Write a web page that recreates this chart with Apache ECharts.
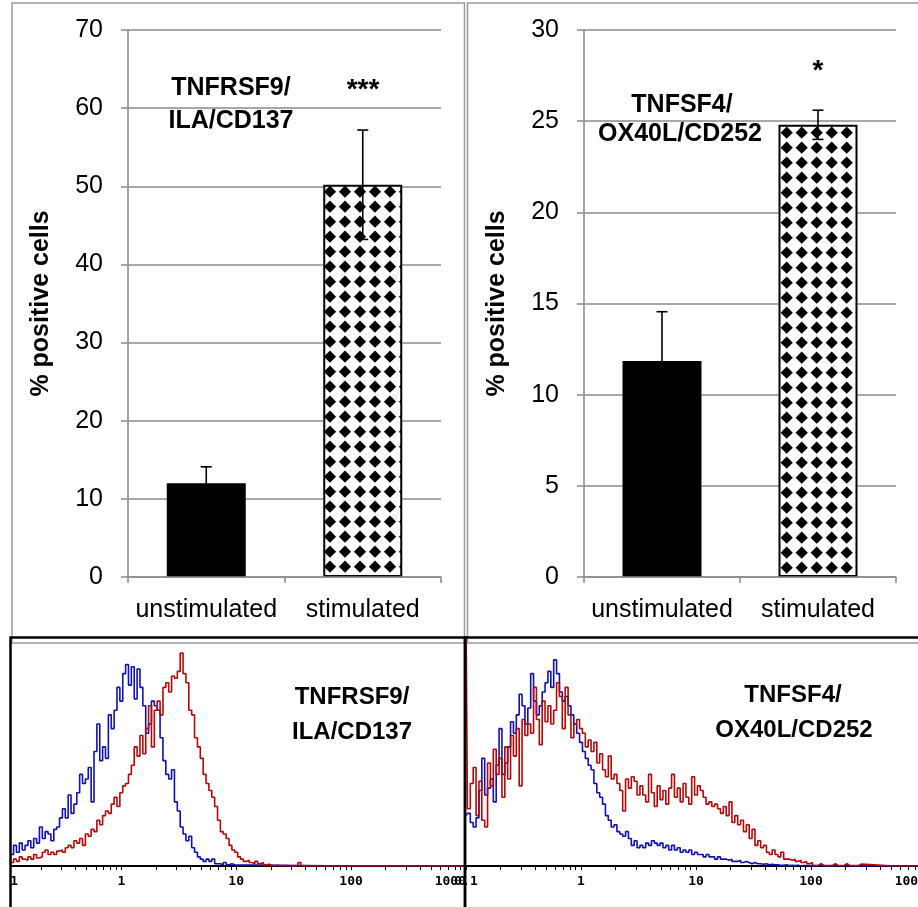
<!DOCTYPE html>
<html>
<head>
<meta charset="utf-8">
<script src="https://cdn.jsdelivr.net/npm/echarts@6/dist/echarts.min.js"></script>
<style>
  html, body { margin: 0; padding: 0; background: #fff; }
  #chart { width: 918px; height: 907px; }
</style>
</head>
<body>
<div id="chart"></div>
<script>
// ---- Bar panels: % positive cells (mean and error) ----
const categories = ['unstimulated', 'stimulated'];
const cd137Mean = [12.0, 50.2];
const cd137Err = [2.1, 7.0];
const ox40lMean = [11.85, 24.8];
const ox40lErr = [2.7, 0.8];
const cd137YTicks = [0, 10, 20, 30, 40, 50, 60, 70];
const ox40lYTicks = [0, 5, 10, 15, 20, 25, 30];
const cd137Signif = '***';
const ox40lSignif = '*';

// ---- Flow cytometry histograms (counts, % of panel height) ----
// bins are 40 per decade, starting at 0.1
const histBinsPerDecade = 40;
const histLabelValues = [0.1, 1, 10, 100, 1000];
const histTickLabels = ['0.1', '1', '10', '100', '1000'];

// CD137 panel, starting at bin 1
const cd137HistUnstim = [7, 5, 9, 6, 10, 7, 9, 11, 8, 12, 10, 17, 12, 15, 14, 11, 16, 17, 21, 25,
  21, 31, 23, 27, 32, 40, 36, 38, 43, 28, 50, 62, 46, 52, 47, 66, 60, 68, 78, 72,
  84, 88, 79, 87, 73, 86, 78, 70, 58, 62, 72, 70, 68, 56, 46, 40, 38, 42, 28, 24,
  17, 14, 11, 13, 8, 6, 4, 3, 2, 3, 2, 3, 1, 1, 0.5, 1.5, 0.5, 1, 0.5, 0];
const cd137HistStim = [3, 1.5, 3, 2, 4, 3, 2.5, 4, 3, 5, 3.5, 4, 6, 7, 5, 6, 5, 6.5, 7, 6,
  8, 9, 8, 11, 10, 12, 9, 14, 13, 16, 15, 20, 18, 22, 24, 23, 27, 30, 26, 32,
  35, 36, 40, 44, 52, 48, 57, 49, 60, 70, 52, 68, 72, 66, 78, 80, 76, 83, 82, 85,
  93, 84, 80, 68, 66, 56, 52, 47, 40, 36, 33, 30, 26, 20, 15, 14, 12, 9, 7, 6,
  4, 3, 2, 2.5, 1.5, 1, 2, 1, 1.5, 0.5, 0.8, 0.3, 0, 0.3, 0, 0, 0.2, 0, 0, 0,
  0, 1.5, 0, 0];

// OX40L panel, starting at bin 0
const ox40lHistUnstim = [22, 23, 19, 17, 21, 33, 47, 31, 34, 38, 28, 44, 60, 40, 45, 52, 63, 58, 66, 75,
  70, 62, 69, 84, 72, 66, 70, 76, 80, 85, 78, 90, 84, 76, 72, 74, 70, 66, 62, 58,
  54, 50, 47, 44, 42, 36, 32, 30, 27, 22, 20, 17, 18, 15, 14, 13, 15, 12, 9, 11,
  8, 9, 8, 10, 9, 11, 10, 9, 10, 8, 9, 7, 9, 7, 8, 6, 7, 6, 7, 5,
  6, 5, 5, 4, 5, 4, 4, 3, 4, 3, 3, 2.5, 3, 2, 2, 2.5, 1.5, 2, 1.5, 1,
  1.5, 1, 1, 0.8, 1, 0.5, 0.8, 0.5, 0.5, 0.3, 0.3, 0.5, 0.2, 0.3, 0.2, 0.3, 0.1, 0.2, 0];
const ox40lHistStim = [110, 25, 36, 43, 22, 37, 20, 17, 45, 35, 51, 40, 47, 30, 52, 38, 57, 48, 60, 35,
  64, 57, 62, 58, 78, 64, 53, 72, 63, 70, 62, 68, 80, 74, 60, 78, 66, 56, 62, 64,
  60, 58, 52, 55, 50, 54, 45, 49, 42, 39, 48, 38, 40, 36, 33, 24, 38, 34, 39, 37,
  31, 35, 31, 28, 40, 32, 26, 35, 29, 33, 27, 34, 40, 30, 34, 28, 36, 30, 27, 39,
  31, 35, 33, 30, 27, 28, 26, 27, 25, 23, 26, 22, 28, 19, 22, 18, 20, 15, 18, 12,
  16, 9, 11, 8, 9, 6, 5, 7, 5, 4, 6, 3, 3, 2.5, 3, 2, 2.5, 1.5, 2, 1,
  1.5, 0.2, 0.2, 1, 0.2, 0.2, 0.2, 0.2, 1, 0.2, 0.2, 0.2, 1, 0.2, 0.2, 0.2, 0.2, 0.8, 0];

// ---- helpers ----
const AXIS_FONT = 'Liberation Sans, Arial, Helvetica, sans-serif';
const GRID_GRAY = '#8a8a8a';

function diamondPattern(phaseX, phaseY) {
  const s = 15, r = 6.1;
  const c = document.createElement('canvas');
  c.width = s; c.height = s;
  const ctx = c.getContext('2d');
  ctx.fillStyle = '#fff';
  ctx.fillRect(0, 0, s, s);
  ctx.fillStyle = '#000';
  for (const dx of [-s, 0, s]) {
    for (const dy of [-s, 0, s]) {
      const cx = phaseX + dx, cy = phaseY + dy;
      ctx.beginPath();
      ctx.moveTo(cx, cy - r);
      ctx.lineTo(cx + r, cy);
      ctx.lineTo(cx, cy + r);
      ctx.lineTo(cx - r, cy);
      ctx.closePath();
      ctx.fill();
    }
  }
  return { image: c, repeat: 'repeat' };
}

function errorBarItem(params, api) {
  const idx = api.value(0);
  const top = api.coord([idx, api.value(2)]);
  const bot = api.coord([idx, api.value(1)]);
  const half = 5.5;
  const st = { stroke: '#000', lineWidth: 1.6 };
  return {
    type: 'group',
    children: [
      { type: 'line', shape: { x1: top[0], y1: top[1], x2: bot[0], y2: bot[1] }, style: st },
      { type: 'line', shape: { x1: top[0] - half, y1: top[1], x2: top[0] + half, y2: top[1] }, style: st },
      { type: 'line', shape: { x1: bot[0] - half, y1: bot[1], x2: bot[0] + half, y2: bot[1] }, style: st }
    ]
  };
}

function histPoints(counts, firstBin) {
  const pts = counts.map((v, k) => [Math.pow(10, -1 + (firstBin + k) / histBinsPerDecade), v]);
  pts.push([histLabelValues[histLabelValues.length - 1], 0]);
  return pts;
}

const histMinorTicks = [];
for (let d = -1; d < 3; d++) {
  for (let k = 1; k <= 9; k++) histMinorTicks.push(k * Math.pow(10, d));
}
histMinorTicks.push(1000);

function barXAxis(gridIndex) {
  return {
    type: 'category', gridIndex, data: categories, z: 3,
    axisLine: { lineStyle: { color: GRID_GRAY, width: 1.5 } },
    axisTick: { show: true, length: 6, lineStyle: { color: GRID_GRAY, width: 1.5 } },
    axisLabel: { fontFamily: AXIS_FONT, fontSize: 25, color: '#000', margin: 21, interval: 0, hideOverlap: false }
  };
}

function barYAxis(gridIndex, ticks) {
  return {
    type: 'value', gridIndex,
    min: ticks[0], max: ticks[ticks.length - 1], interval: ticks[1] - ticks[0],
    name: '% positive cells', nameLocation: 'middle', nameRotate: 90, nameGap: 74,
    nameTextStyle: { fontFamily: AXIS_FONT, fontSize: 25, fontWeight: 'bold', color: '#000' },
    axisLine: { show: true, lineStyle: { color: GRID_GRAY, width: 1.5 } },
    axisTick: { show: true, length: 7, lineStyle: { color: GRID_GRAY, width: 1.5 } },
    axisLabel: { fontFamily: AXIS_FONT, fontSize: 25, color: '#000', margin: 25 },
    splitLine: { show: true, lineStyle: { color: GRID_GRAY, width: 1.5 } }
  };
}

function histXAxis(gridIndex) {
  return {
    type: 'log', logBase: 10, gridIndex,
    min: histLabelValues[0], max: histLabelValues[histLabelValues.length - 1],
    axisLine: { lineStyle: { color: '#000', width: 2 } },
    axisTick: { show: true, customValues: histMinorTicks, length: 4, lineStyle: { color: '#000', width: 1 } },
    axisLabel: {
      customValues: histLabelValues,
      formatter: v => histTickLabels[Math.round(Math.log10(v)) + 1],
      fontFamily: 'DejaVu Sans Mono, Liberation Mono, monospace', fontWeight: 'bold',
      fontSize: 13, color: '#000', margin: 9, alignMaxLabel: 'right', hideOverlap: false
    },
    splitLine: { show: false }
  };
}

function histYAxis(gridIndex) {
  return { type: 'value', gridIndex, min: 0, max: 100, show: false };
}

function barSeries(axisIndex, means, errs, pattern) {
  return [
    { // white gap round each bar, breaking the gridlines
      type: 'bar', xAxisIndex: axisIndex, yAxisIndex: axisIndex, barWidth: 79, barGap: '-100%',
      silent: true, z: 1, animation: false,
      itemStyle: { color: '#fff', borderColor: '#fff', borderWidth: 20 },
      data: means
    },
    {
      type: 'bar', xAxisIndex: axisIndex, yAxisIndex: axisIndex, barWidth: 79, barGap: '-100%',
      z: 2, animation: false,
      data: means.map((m, i) => i === 0
        ? { value: m, itemStyle: { color: '#000' } }
        : { value: m, itemStyle: { color: pattern, borderColor: '#000', borderWidth: 2 } })
    },
    {
      type: 'custom', xAxisIndex: axisIndex, yAxisIndex: axisIndex, z: 4, animation: false,
      renderItem: errorBarItem,
      data: means.map((m, i) => [i, m - errs[i], m + errs[i]])
    }
  ];
}

function histSeries(axisIndex, counts, firstBin, color) {
  return {
    type: 'line', xAxisIndex: axisIndex, yAxisIndex: axisIndex, step: 'middle',
    showSymbol: false, symbol: 'none', animation: false, silent: true, clip: true,
    lineStyle: { color, width: 1.6 },
    data: histPoints(counts, firstBin)
  };
}

const BLUE = '#1010b4';
const RED = '#b40808';

function label(text, x, y, size) {
  return {
    type: 'text', x, y, z: 120,
    style: { text, fill: '#000', font: 'bold ' + size + 'px ' + AXIS_FONT, textAlign: 'center', textVerticalAlign: 'middle' }
  };
}

const gridBase = { containLabel: false, outerBoundsMode: 'none' };

const option = {
  backgroundColor: '#fff',
  animation: false,
  grid: [
    Object.assign({ left: 128, top: 30, width: 313, height: 547 }, gridBase),
    Object.assign({ left: 584, top: 30, width: 312, height: 547 }, gridBase),
    Object.assign({ left: 6.4, top: 637, width: 459.6, height: 229 }, gridBase),
    Object.assign({ left: 466, top: 637, width: 460, height: 229 }, gridBase)
  ],
  xAxis: [barXAxis(0), barXAxis(1), histXAxis(2), histXAxis(3)],
  yAxis: [barYAxis(0, cd137YTicks), barYAxis(1, ox40lYTicks), histYAxis(2), histYAxis(3)],
  series: [
    ...barSeries(0, cd137Mean, cd137Err, diamondPattern(0, 11.7)),
    ...barSeries(1, ox40lMean, ox40lErr, diamondPattern(6.7, 12.7)),
    histSeries(2, cd137HistUnstim, 1, BLUE),
    histSeries(2, cd137HistStim, 1, RED),
    histSeries(3, ox40lHistUnstim, 0, BLUE),
    histSeries(3, ox40lHistStim, 0, RED)
  ],
  graphic: [
    // panel frames
    { type: 'rect', z: 100, shape: { x: 12, y: 3, width: 452.5, height: 640 }, style: { fill: 'none', stroke: '#9a9a9a', lineWidth: 1.5 } },
    { type: 'rect', z: 100, shape: { x: 467.5, y: 3, width: 460, height: 640 }, style: { fill: 'none', stroke: '#9a9a9a', lineWidth: 1.5 } },
    { type: 'rect', z: 105, shape: { x: 0, y: 636, width: 10.5, height: 271 }, style: { fill: '#fff' } },
    { type: 'rect', z: 110, shape: { x: 10.5, y: 637.5, width: 454.5, height: 300 }, style: { fill: 'none', stroke: '#000', lineWidth: 2.5 } },
    { type: 'rect', z: 110, shape: { x: 465, y: 637.5, width: 470, height: 300 }, style: { fill: 'none', stroke: '#000', lineWidth: 2.5 } },
    // marker names and significance
    label('TNFRSF9/', 231, 88, 25),
    label('ILA/CD137', 231, 121, 25),
    label(cd137Signif, 363, 90, 28),
    label('TNFSF4/', 682, 105, 25),
    label('OX40L/CD252', 680, 134, 25),
    label(ox40lSignif, 818, 71, 28),
    label('TNFRSF9/', 352, 697, 24),
    label('ILA/CD137', 352, 732, 24),
    label('TNFSF4/', 793, 695, 24),
    label('OX40L/CD252', 794, 730, 24)
  ]
};

const chart = echarts.init(document.getElementById('chart'), null, { renderer: 'canvas' });
chart.setOption(option);
</script>
</body>
</html>
